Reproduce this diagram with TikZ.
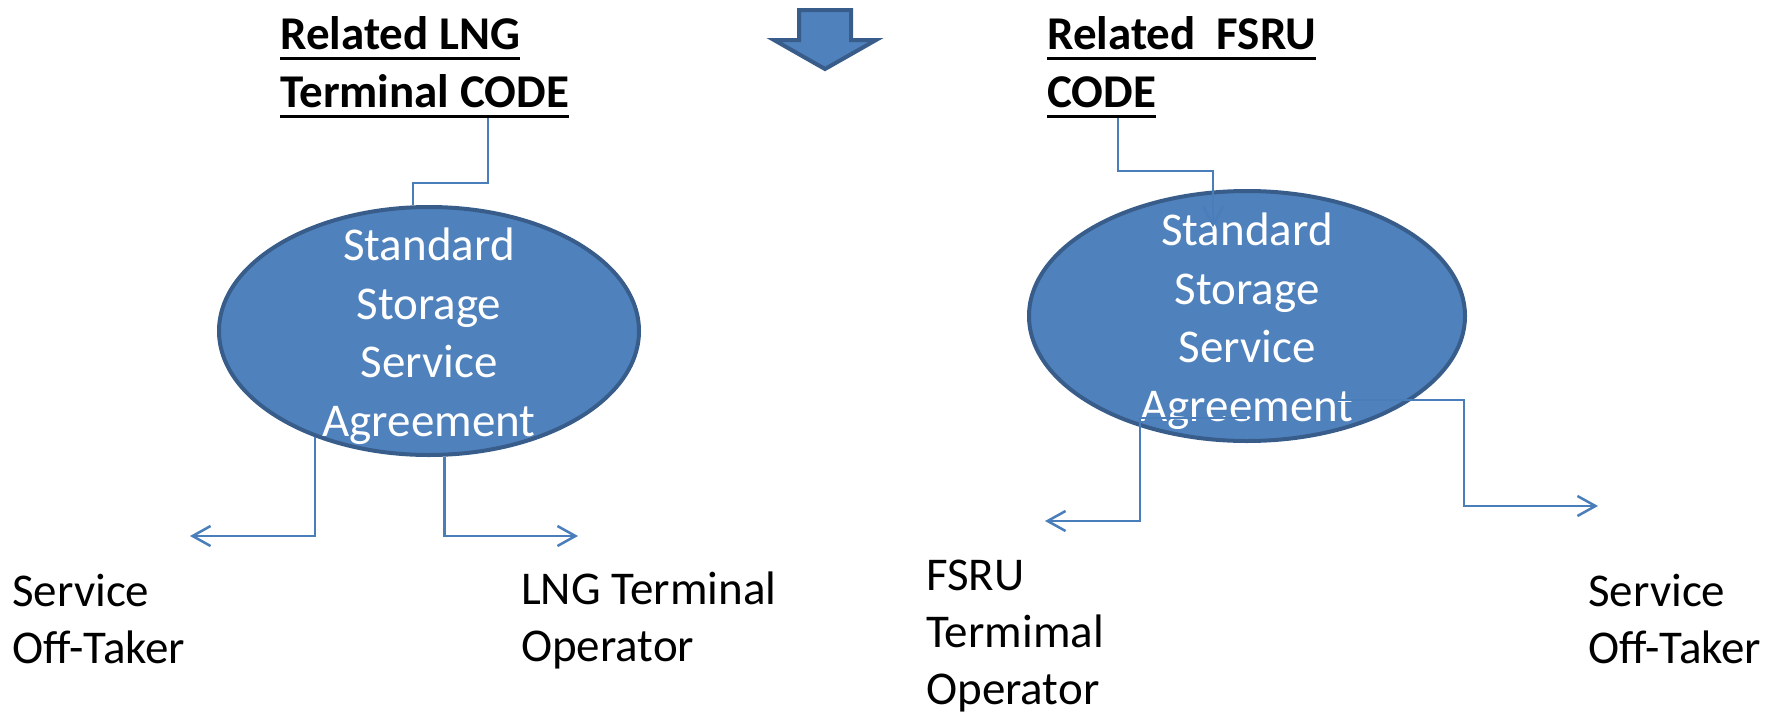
\documentclass[tikz,border=0pt]{standalone}
\usepackage{fontspec}
\setmainfont{Carlito}
\usetikzlibrary{shapes.geometric,arrows.meta,calc}
\definecolor{accfill}{HTML}{4F81BD}
\definecolor{accline}{HTML}{385D8A}
\definecolor{linkblue}{HTML}{4A7EBB}
\newsavebox\ulbox
\newcommand{\ulword}[1]{\sbox\ulbox{#1}\rlap{\rule[-10.5pt]{\wd\ulbox}{3pt}}\usebox\ulbox}

\begin{document}
\begin{tikzpicture}[x=1pt,y=-1pt,
  codetitle/.style={anchor=north west,inner sep=0,align=left,font=\fontsize{47}{58}\selectfont\bfseries},
  agreement/.style={ellipse,draw=accline,line width=4pt,fill=accfill,inner sep=0},
  slatext/.style={text=white,align=center,inner sep=0,yshift=-5pt,font=\fontsize{47}{58.5}\selectfont},
  party/.style={anchor=north west,inner sep=0,align=left,font=\fontsize{47}{57}\selectfont},
  link/.style={linkblue,line width=2.5pt},
  tolink/.style={link,-{Straight Barb[length=18pt,width=20pt]}}]

\useasboundingbox (0,0) rectangle (1775,713);

\draw [accline,line width=4pt,fill=accfill] (799,10) -- (851,10) -- (851,40) -- (876,40) -- (825,69) -- (774,40) -- (799,40) -- cycle;

\node[codetitle] (lngcode) at (280,16) {\ulword{Related LNG}\\\ulword{Terminal CODE}};
\node[codetitle] (fsrucode) at (1047,16) {\ulword{Related~~FSRU}\\\ulword{CODE}};

\node[agreement,minimum width=420pt,minimum height=248pt,
  label={[slatext]center:{Standard\\Storage\\Service\\Agreement}}] (lngsla) at (429,331) {};
\node[agreement,minimum width=436pt,minimum height=250pt,
  label={[slatext]center:{Standard\\Storage\\Service\\Agreement}}] (fsrusla) at (1247,316) {};

\node[party] (lngtaker) at (12,574) {Service\\Off-Taker};
\node[party] (lngop) at (521,572) {LNG Terminal\\Operator};
\node[party] (fsruop) at (926,560) {FSRU\\Termimal\\Operator};
\node[party] (fsrutaker) at (1588,574) {Service\\Off-Taker};

\coordinate (lngtakerend) at (190,536);
\coordinate (lngopend) at (578,536);
\coordinate (fsruopend) at (1045,521);
\coordinate (fsrutakerend) at (1598,506);
\coordinate (fsruhit) at (1213,227);

\draw [link] (lngcode.south -| 488,0) -- (488,183) -- (413,183) -- (lngsla.north -| 413,0);
\draw [tolink] (fsrucode.south -| 1118,0) |- ($(fsruhit)+(0,-56)$) -- (fsruhit);

\draw [tolink] (lngsla.223) |- (lngtakerend);
\draw [tolink] (lngsla.277) |- (lngopend);
\draw [tolink] ($(fsrusla.center)+(0,102)$) -| (fsruopend -| 1140,0) -- (fsruopend);
\draw [tolink] ($(fsrusla.center)+(86,84)$) -| (fsrutakerend -| 1464,0) -- (fsrutakerend);

\end{tikzpicture}
\end{document}
